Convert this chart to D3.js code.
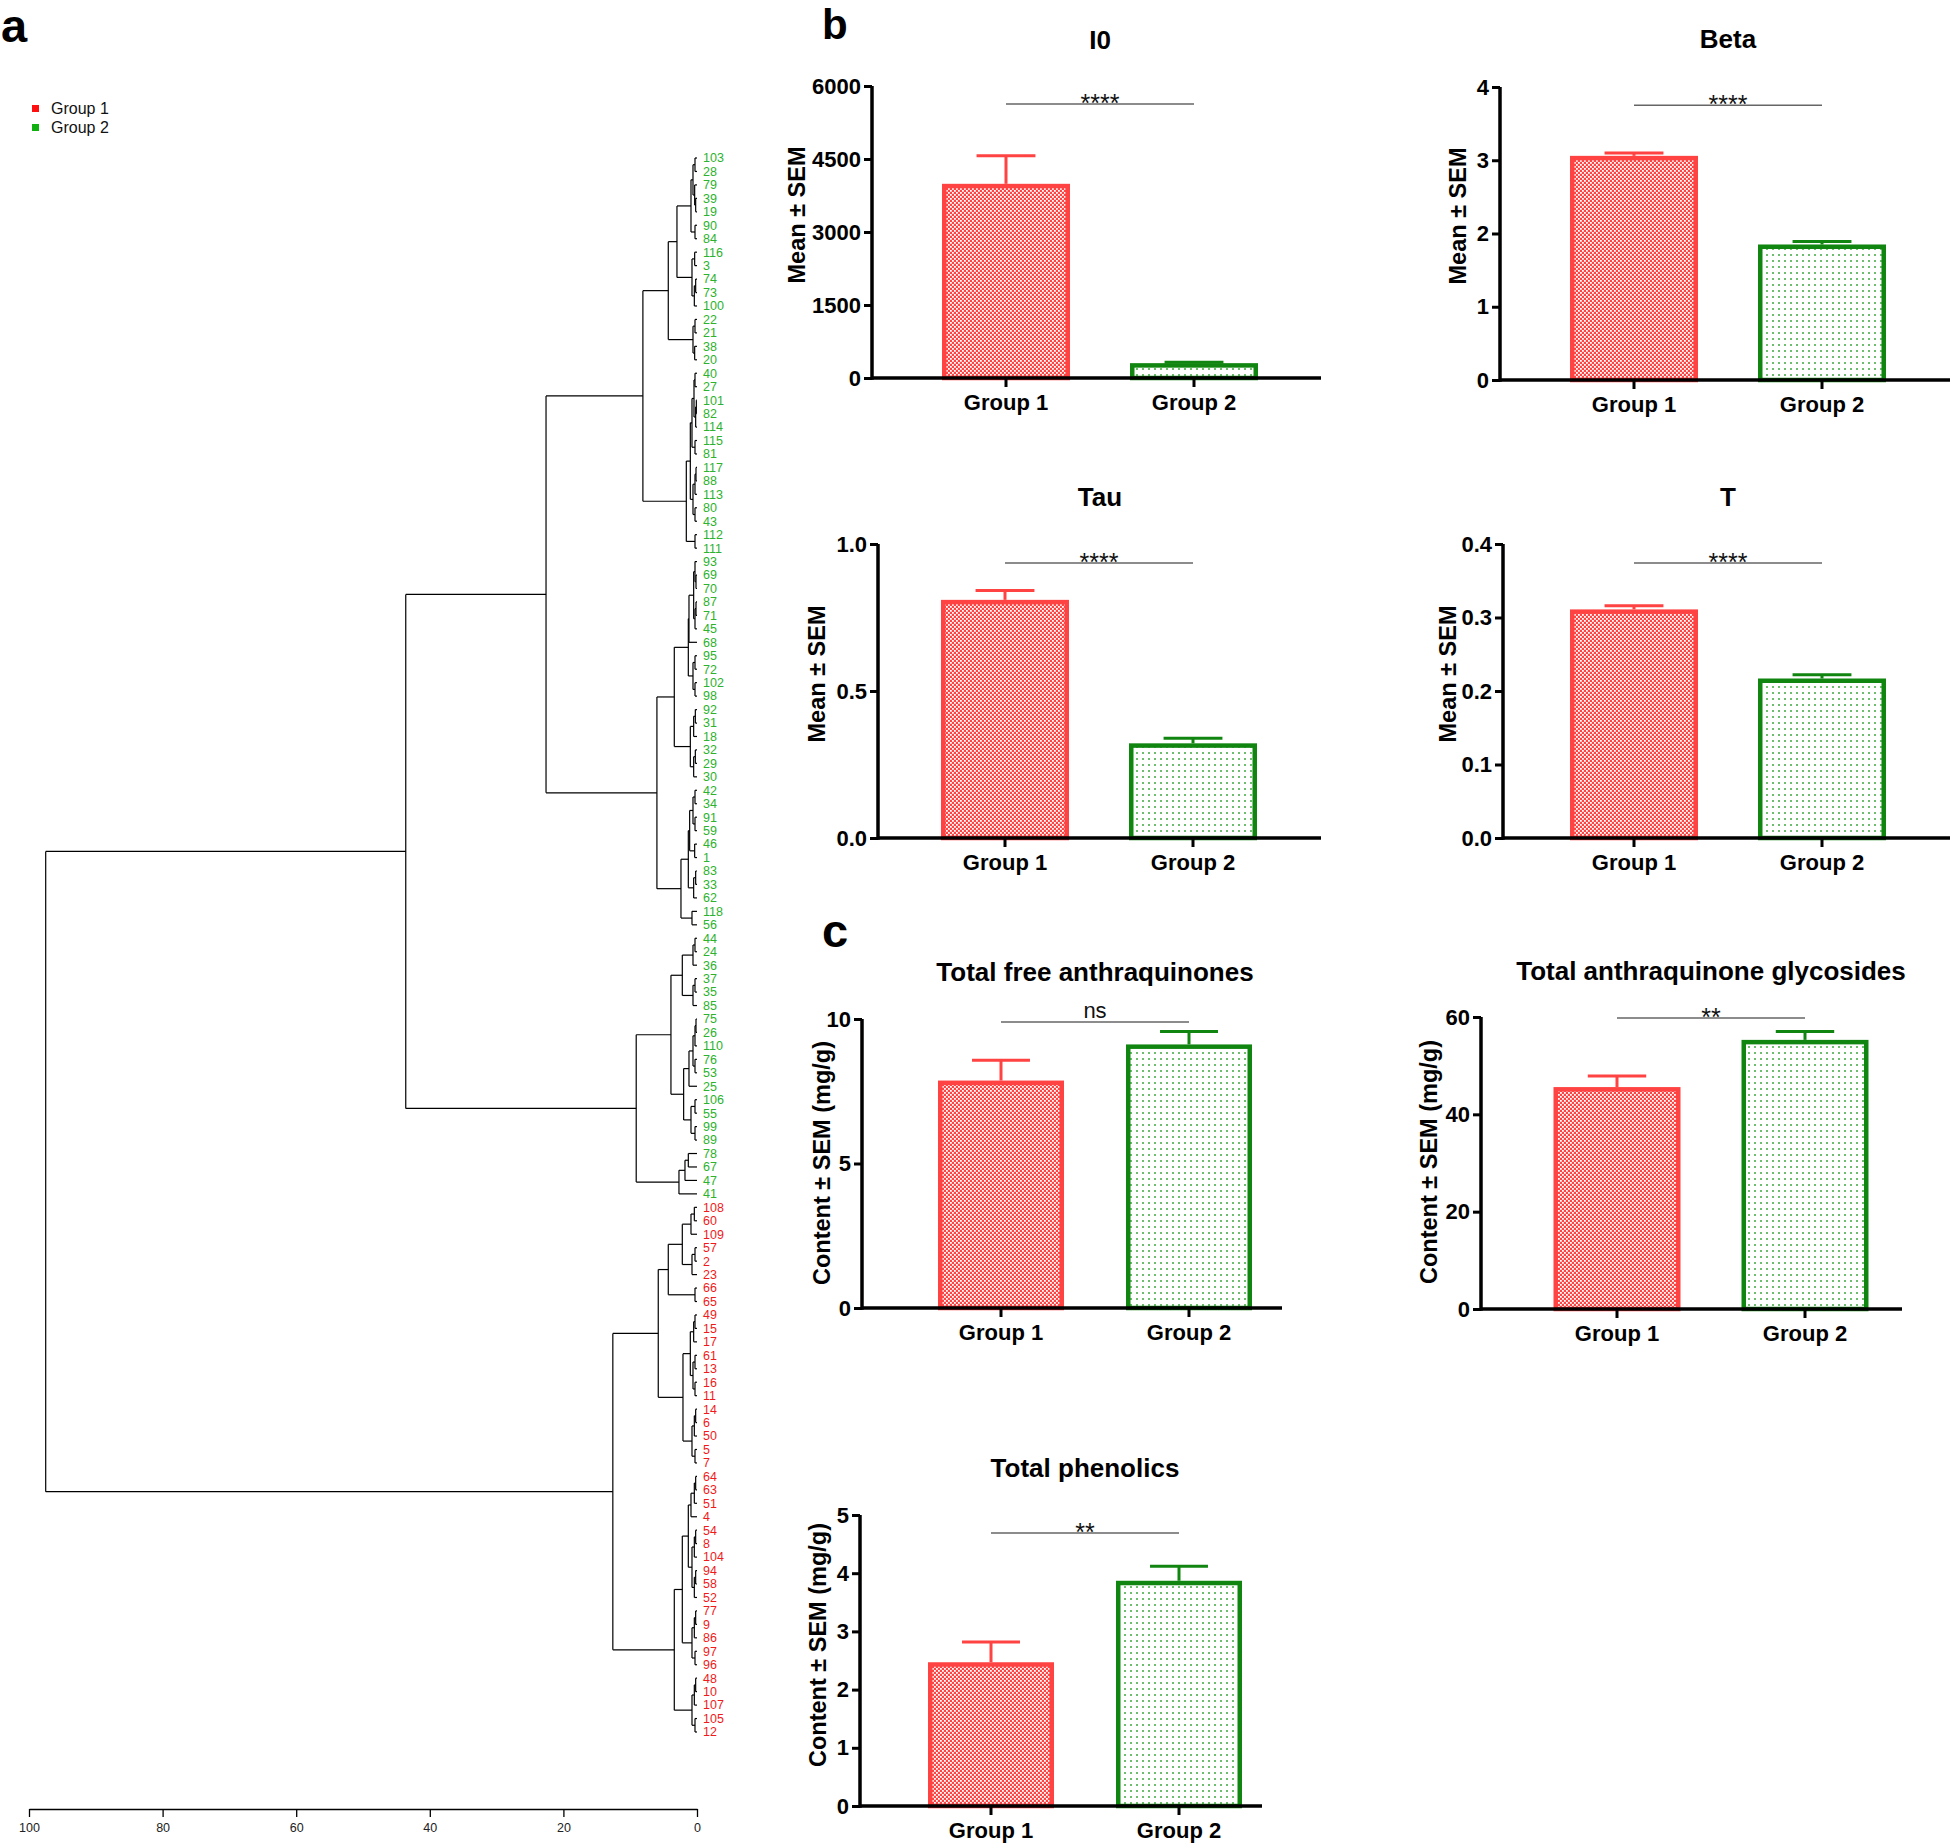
<!DOCTYPE html>
<html><head><meta charset="utf-8">
<script src="https://cdn.jsdelivr.net/npm/d3@7"></script>
<style>body{margin:0;background:#fff} svg{display:block;background:#fff}</style>
</head><body><svg id="c" width="1954" height="1847"></svg>
<script>
// ---------------- DATA ----------------
const groups = ["Group 1", "Group 2"];
const i0Mean = [3990, 305],  i0Sem = [575, 20];
const betaMean = [3.06, 1.85], betaSem = [0.04, 0.04];
const tauMean = [0.81, 0.322], tauSem = [0.032, 0.017];
const tMean = [0.311, 0.217], tSem = [0.005, 0.005];
const freeMean = [7.87, 9.12], freeSem = [0.70, 0.45];
const glyMean = [45.6, 55.3], glySem = [2.3, 1.7];
const phenMean = [2.47, 3.87], phenSem = [0.35, 0.25];
const i0Ticks = [0, 1500, 3000, 4500, 6000];
const betaTicks = [0, 1, 2, 3, 4];
const tauTicks = [0, 0.5, 1.0];
const tTicks = [0, 0.1, 0.2, 0.3, 0.4];
const freeTicks = [0, 5, 10];
const glyTicks = [0, 20, 40, 60];
const phenTicks = [0, 1, 2, 3, 4, 5];
const sigLabels = ["****", "****", "****", "****", "ns", "**", "**"];
const sigValues = [5630, 3.75, 0.935, 0.374, 9.9, 59.8, 4.69];

const group1Leaves = ["108","60","109","57","2","23","66","65","49","15","17","61","13","16","11","14","6","50","5","7","64","63","51","4","54","8","104","94","58","52","77","9","86","97","96","48","10","107","105","12"];
const group2Leaves = ["103","28","79","39","19","90","84","116","3","74","73","100","22","21","38","20","40","27","101","82","114","115","81","117","88","113","80","43","112","111","93","69","70","87","71","45","68","95","72","102","98","92","31","18","32","29","30","42","34","91","59","46","1","83","33","62","118","56","44","24","36","37","35","85","75","26","110","76","53","25","106","55","99","89","78","67","47","41"];
const dendroTicks = [100, 80, 60, 40, 20, 0];

// dendrogram: [height, child, child]; leaves are labels
const clusterA1 = [8.1,
  [4.3,
    [3.0,
      [0.9, [0.6, [0.3,"103","28"], [0.35,"79",[0.2,"39","19"]]], [0.3,"90","84"]],
      [0.75, [0.35,"116","3"], [0.4,[0.2,"74","73"],"100"]]],
    [0.6, [0.3,"22","21"], [0.35,"38","20"]]],
  [1.6,
    [1.0,
      [0.75, [0.45,[0.3,"40","27"],[0.2,[0.1,"101","82"],"114"]], [0.3,"115","81"]],
      [0.6, [0.3,[0.15,"117","88"],"113"], [0.3,"80","43"]]],
    [0.3,"112","111"]]];
const clusterA2 = [6.0,
  [3.4,
    [1.3,
      [1.2, [0.5,[0.3,"93",[0.15,"69","70"]],[0.3,[0.15,"87","71"],"45"]], "68"],
      [0.6, [0.3,"95","72"], [0.3,"102","98"]]],
    [1.0, [0.5,[0.25,"92","31"],"18"], [0.5,[0.25,"32","29"],"30"]]],
  [2.4,
    [1.3,
      [1.1, [0.6,[0.3,"42","34"],[0.3,"91","59"]], [0.35,"46","1"]],
      [0.5, [0.2,"83","33"], "62"]],
    [0.75,"118","56"]]];
const clusterB = [9.1,
  [3.9,
    [2.2, [0.6,[0.3,"44","24"],"36"], [0.6,[0.3,"37","35"],"85"]],
    [2.0, [1.2,[0.6,[0.3,[0.15,"75","26"],"110"],[0.3,"76","53"]],"25"], [0.9,[0.3,"106","55"],[0.3,"99","89"]]]],
  [2.7, [1.8,[1.3,"78","67"],"47"], "41"]];
const clusterR1 = [5.8,
  [4.3, [2.2,[0.9,[0.4,"108","60"],"109"],[0.75,[0.3,"57","2"],"23"]], [0.3,"66","65"]],
  [2.1, [1.0,[0.5,[0.3,"49","15"],"17"],[0.6,[0.3,"61","13"],[0.3,"16","11"]]], [0.75,[0.4,[0.2,"14","6"],"50"],[0.3,"5","7"]]]];
const clusterR2 = [3.4,
  [2.2,
    [1.3, [0.9,[0.4,[0.2,"64","63"],"51"],"4"], [0.75,[0.4,[0.2,"54","8"],"104"],[0.4,[0.2,"94","58"],"52"]]],
    [0.75, [0.4,[0.2,"77","9"],"86"], [0.3,"97","96"]]],
  [0.75, [0.4,[0.2,"48","10"],"107"], [0.3,"105","12"]]];
const tree = [97.5, [43.6, [22.6, clusterA1, clusterA2], clusterB], [12.6, clusterR1, clusterR2]];

// ---------------- DRAW ----------------
const FONT = "'Liberation Sans', Arial, sans-serif";
const RED = "#ff4242", GREEN = "#108510";
const svg = d3.select("#c");
const defs = svg.append("defs");
const pr = defs.append("pattern").attr("id","redPat").attr("patternUnits","userSpaceOnUse").attr("width",4).attr("height",4);
pr.append("rect").attr("width",4).attr("height",4).attr("fill",RED);
pr.append("rect").attr("x",0).attr("y",0).attr("width",1.8).attr("height",1.8).attr("fill","#fff");
pr.append("rect").attr("x",2).attr("y",2).attr("width",1.8).attr("height",1.8).attr("fill","#fff");
const pg = defs.append("pattern").attr("id","greenPat").attr("patternUnits","userSpaceOnUse").attr("width",6).attr("height",6);
pg.append("rect").attr("width",6).attr("height",6).attr("fill","#fff");
pg.append("rect").attr("x",2.2).attr("y",2.2).attr("width",1.6).attr("height",1.6).attr("fill","#1f9a1f");

// panel letters
[["a",1,42,47],["b",822,39,42],["c",822,947,47]].forEach(([t,x,y,s]) =>
  svg.append("text").attr("x",x).attr("y",y).text(t)
    .style("font-family",FONT).style("font-weight",700).style("font-size",s+"px"));

// ---- dendrogram ----
function build(a){ return typeof a === "string" ? {name:a, h:0} : {h:a[0], children:a.slice(1).map(build)}; }
const root = d3.hierarchy(build(tree));
const leaves = root.leaves();
const yLeaf = d3.scalePoint().domain(leaves.map(d => d.data.name)).range([158, 1732]);
const xD = d3.scaleLinear().domain([100, 0]).range([29, 697]);
root.eachAfter(n => {
  n.py = n.children ? (n.children[0].py + n.children[n.children.length-1].py) / 2 : yLeaf(n.data.name);
});
const dg = svg.append("g").attr("stroke","#000").attr("stroke-width",1.2).attr("fill","none");
root.each(n => {
  if (!n.children) return;
  const x = xD(n.data.h);
  dg.append("line").attr("x1",x).attr("x2",x).attr("y1",n.children[0].py).attr("y2",n.children[n.children.length-1].py);
  n.children.forEach(c => dg.append("line").attr("x1",x).attr("x2",xD(c.data.h)).attr("y1",c.py).attr("y2",c.py));
});
const g1set = new Set(group1Leaves);
svg.append("g").selectAll("text").data(leaves).join("text")
  .attr("x", 703).attr("y", d => d.py).attr("dy","0.35em")
  .text(d => d.data.name)
  .attr("fill", d => g1set.has(d.data.name) ? "#f01a1a" : "#2cb22c")
  .style("font-family",FONT).style("font-size","12.5px");

const dax = svg.append("g").attr("transform","translate(0,1809)")
  .call(d3.axisBottom(xD).tickValues(dendroTicks).tickSize(8).tickSizeOuter(0).tickPadding(6));
dax.select(".domain").attr("stroke-width",1.5);
dax.selectAll(".tick line").attr("stroke-width",1.3);
dax.selectAll("text").style("font-family",FONT).style("font-size","12.5px").attr("fill","#222");

// legend
[["Group 1","#ff1010",108.5],["Group 2","#10b010",127.5]].forEach(([t,c,y]) => {
  svg.append("rect").attr("x",32).attr("y",y-3.5).attr("width",7).attr("height",7).attr("fill",c);
  svg.append("text").attr("x",51).attr("y",y).attr("dy","0.35em").text(t)
    .style("font-family",FONT).style("font-size","16px").attr("fill","#111");
});

// ---- bar panels ----
const panels = [
  {title:"I0", mean:i0Mean, sem:i0Sem, ticks:i0Ticks, fmt:d3.format("d"), max:6000, sig:0,
   ax:872, y0:378, yTop:86, xEnd:1321, c:[1006,1194], bw:128, tx:1100, ty:40, lx:797, ly:215, lab:"Mean \u00b1 SEM"},
  {title:"Beta", mean:betaMean, sem:betaSem, ticks:betaTicks, fmt:d3.format("d"), max:4, sig:1,
   ax:1500, y0:380, yTop:87, xEnd:1950, c:[1634,1822], bw:128, tx:1728, ty:39, lx:1458, ly:216, lab:"Mean \u00b1 SEM"},
  {title:"Tau", mean:tauMean, sem:tauSem, ticks:tauTicks, fmt:d3.format(".1f"), max:1, sig:2,
   ax:878, y0:838, yTop:544, xEnd:1321, c:[1005,1193], bw:128, tx:1100, ty:497, lx:817, ly:674, lab:"Mean \u00b1 SEM"},
  {title:"T", mean:tMean, sem:tSem, ticks:tTicks, fmt:d3.format(".1f"), max:0.4, sig:3,
   ax:1503, y0:838, yTop:544, xEnd:1950, c:[1634,1822], bw:128, tx:1728, ty:497, lx:1448, ly:674, lab:"Mean \u00b1 SEM"},
  {title:"Total free anthraquinones", mean:freeMean, sem:freeSem, ticks:freeTicks, fmt:d3.format("d"), max:10, sig:4,
   ax:862, y0:1308, yTop:1019, xEnd:1282, c:[1001,1189], bw:126, tx:1095, ty:972, lx:822, ly:1163, lab:"Content \u00b1 SEM (mg/g)"},
  {title:"Total anthraquinone glycosides", mean:glyMean, sem:glySem, ticks:glyTicks, fmt:d3.format("d"), max:60, sig:5,
   ax:1481, y0:1309, yTop:1017, xEnd:1902, c:[1617,1805], bw:127, tx:1711, ty:971, lx:1429, ly:1162, lab:"Content \u00b1 SEM (mg/g)"},
  {title:"Total phenolics", mean:phenMean, sem:phenSem, ticks:phenTicks, fmt:d3.format("d"), max:5, sig:6,
   ax:860, y0:1806, yTop:1515, xEnd:1262, c:[991,1179], bw:126, tx:1085, ty:1468, lx:818, ly:1645, lab:"Content \u00b1 SEM (mg/g)"}
];

panels.forEach(p => {
  const g = svg.append("g");
  const y = d3.scaleLinear().domain([0, p.max]).range([p.y0, p.yTop]);
  const x = d3.scaleOrdinal().domain(groups).range(p.c);
  const sw = 4.5;
  groups.forEach((gr, i) => {
    const col = i === 0 ? RED : GREEN;
    const v = p.mean[i], s = p.sem[i];
    const top = y(v);
    g.append("rect").attr("x", x(gr) - p.bw/2 + sw/2).attr("y", top + sw/2)
      .attr("width", p.bw - sw).attr("height", Math.max(0, p.y0 - top - sw/2))
      .attr("fill", i === 0 ? "url(#redPat)" : "url(#greenPat)")
      .attr("stroke", col).attr("stroke-width", sw);
    g.append("line").attr("x1", x(gr)).attr("x2", x(gr)).attr("y1", top).attr("y2", y(v + s))
      .attr("stroke", col).attr("stroke-width", 3);
    g.append("line").attr("x1", x(gr) - p.bw*0.23).attr("x2", x(gr) + p.bw*0.23)
      .attr("y1", y(v + s)).attr("y2", y(v + s)).attr("stroke", col).attr("stroke-width", 3);
  });
  // y axis
  const ya = g.append("g").attr("transform", `translate(${p.ax},0)`)
    .call(d3.axisLeft(y).tickValues(p.ticks).tickFormat(p.fmt).tickSize(8).tickSizeOuter(0).tickPadding(3));
  ya.select(".domain").attr("stroke-width", 3.5).attr("d", `M0,${p.y0+1.75}V${p.yTop}`);
  ya.selectAll(".tick line").attr("stroke-width", 3);
  ya.selectAll("text").style("font-family", FONT).style("font-weight", 700).style("font-size", "22px").attr("fill","#000");
  // x axis
  g.append("line").attr("x1", p.ax).attr("x2", p.xEnd).attr("y1", p.y0).attr("y2", p.y0)
    .attr("stroke", "#000").attr("stroke-width", 3.5);
  groups.forEach(gr => {
    g.append("line").attr("x1", x(gr)).attr("x2", x(gr)).attr("y1", p.y0).attr("y2", p.y0 + 9)
      .attr("stroke", "#000").attr("stroke-width", 3);
    g.append("text").attr("x", x(gr)).attr("y", p.y0 + 24).attr("dy", "0.35em").attr("text-anchor", "middle")
      .text(gr).style("font-family", FONT).style("font-weight", 700).style("font-size", "22px");
  });
  // title
  g.append("text").attr("x", p.tx).attr("y", p.ty).attr("dy", "0.36em").attr("text-anchor", "middle")
    .text(p.title).style("font-family", FONT).style("font-weight", 700).style("font-size", "26px");
  // y label
  g.append("text").attr("transform", `translate(${p.lx},${p.ly}) rotate(-90)`).attr("dy", "0.36em")
    .attr("text-anchor", "middle").text(p.lab)
    .style("font-family", FONT).style("font-weight", 700).style("font-size", "23.5px");
  // significance
  const sy = y(sigValues[p.sig]);
  g.append("line").attr("x1", p.c[0]).attr("x2", p.c[1]).attr("y1", sy).attr("y2", sy)
    .attr("stroke", "#666").attr("stroke-width", 1.5);
  const lbl = sigLabels[p.sig];
  g.append("text").attr("x", (p.c[0] + p.c[1]) / 2).attr("y", lbl === "ns" ? sy - 4 : sy + 8)
    .attr("text-anchor", "middle").text(lbl)
    .style("font-family", FONT).style("font-size", lbl === "ns" ? "22px" : "25px").attr("fill", "#111");
});
</script></body></html>
